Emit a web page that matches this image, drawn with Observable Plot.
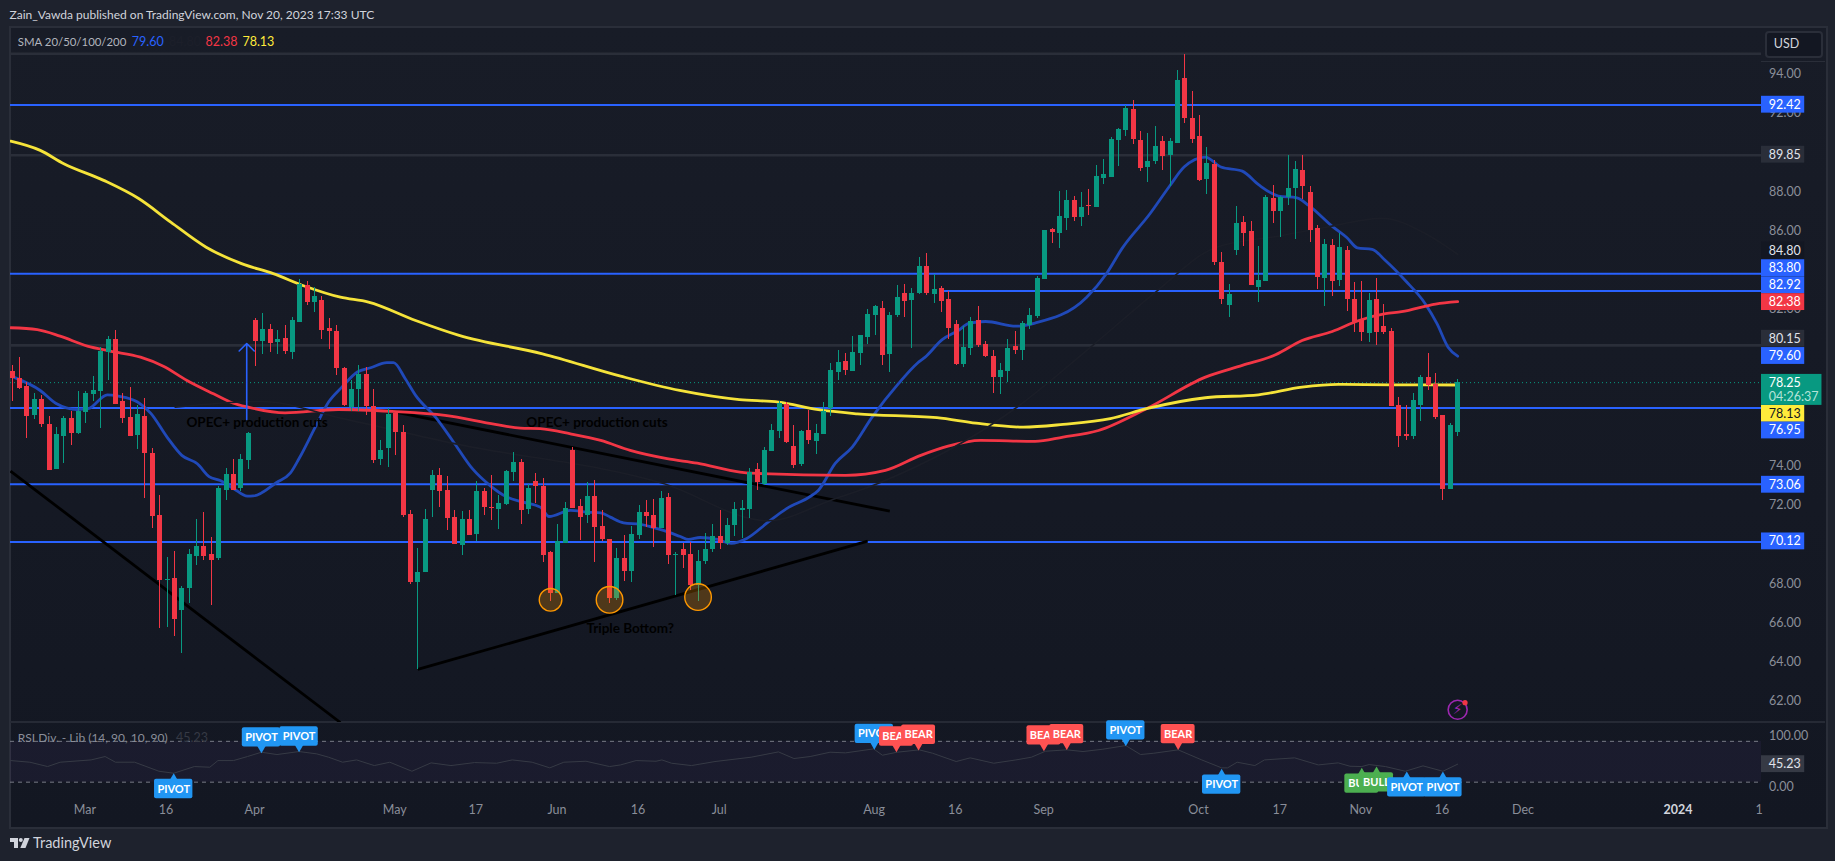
<!DOCTYPE html>
<html>
<head>
<meta charset="utf-8">
<script src="https://cdn.jsdelivr.net/npm/d3@7"></script>
<script src="https://cdn.jsdelivr.net/npm/@observablehq/plot@0.6"></script>
<style>
html,body{margin:0;padding:0;background:#1e222d;overflow:hidden}
#root{position:relative;width:1835px;height:861px;background:#1e222d;font-family:Lato,sans-serif;overflow:hidden}
#pane{position:absolute;left:9px;top:26px;width:1815px;height:799px;border:2px solid #2a2e39;box-sizing:content-box;background:linear-gradient(#181c27,#131722)}
.abs{position:absolute;white-space:pre}
#root svg{position:absolute;left:0;top:0}
</style>
</head>
<body>
<div id="root">
  <div id="pane"></div>
  <div id="sep" class="abs" style="left:10px;top:721px;width:1815px;height:2px;background:#262a35"></div>
  <div id="scaleline" class="abs" style="left:1761px;top:61px;width:64px;height:1px;background:#2a2e39"></div>
</div>
<script>
// ---- candles (USD per barrel, oldest first)
const opens = [
78.82,78.46,78.06,76.58,77.39,76.12,73.82,75.51,76.42,75.66,
76.73,77.65,77.80,79.79,80.45,77.29,76.47,75.56,76.53,74.64,
71.47,68.16,68.26,66.63,67.75,69.38,69.89,69.48,69.28,72.75,
73.57,72.85,74.28,81.42,80.35,80.97,80.30,80.51,79.79,81.32,
83.21,82.34,82.44,81.02,80.86,78.97,76.98,77.90,78.67,77.04,
74.33,74.89,76.68,75.71,71.53,68.06,68.57,72.75,73.52,72.75,
71.37,69.94,71.27,70.51,72.70,71.88,71.78,72.04,73.67,74.18,
71.78,73.21,72.95,69.59,67.50,70.05,74.79,71.93,71.47,72.44,
70.91,70.25,67.24,69.28,68.62,70.45,71.63,71.47,70.81,72.39,
69.43,69.74,69.48,67.90,69.13,69.74,70.40,70.05,70.96,71.75,
71.78,73.82,73.07,74.74,75.76,77.14,75.00,74.08,75.81,75.25,
75.61,76.93,78.77,79.33,78.82,79.74,80.56,81.68,82.04,79.69,
81.68,82.80,82.44,82.80,84.18,82.75,83.06,82.50,81.22,79.18,
80.00,81.42,80.20,79.59,78.52,78.82,80.10,79.89,81.17,81.63,
83.52,86.07,85.86,86.63,87.55,86.68,87.29,87.19,88.67,88.72,
90.61,91.12,92.19,90.61,89.23,89.54,90.56,89.84,90.45,93.77,
91.73,90.81,88.62,89.38,84.38,82.19,85.00,86.42,85.96,83.11,
83.41,87.65,86.98,87.70,88.16,89.08,87.95,86.12,83.57,85.25,
83.46,85.00,82.50,81.42,80.76,82.50,81.12,80.86,77.09,75.61,
75.51,77.09,78.52,78.16,76.58,72.80,75.71];
const closes = [
78.48,77.97,76.54,77.39,76.12,73.77,75.61,76.42,75.66,76.78,
77.70,77.85,79.84,80.45,77.14,76.42,75.51,76.63,74.64,71.42,
68.16,68.21,66.17,67.75,69.48,69.89,69.38,69.18,72.85,73.57,
72.75,74.33,75.66,80.35,80.97,80.25,80.45,79.84,81.42,83.26,
82.34,82.65,80.91,80.86,78.97,77.09,77.90,78.67,77.04,74.28,
74.79,76.63,75.71,71.47,68.06,68.57,71.27,73.52,72.70,71.32,
70.00,71.27,70.45,72.70,71.88,71.83,72.09,73.72,74.18,71.73,
72.85,72.95,69.43,67.50,70.15,71.83,71.83,71.37,72.44,70.86,
70.25,67.24,69.28,68.62,70.50,71.63,71.42,70.81,72.34,69.43,
69.48,69.43,67.90,69.13,69.74,70.40,70.05,70.96,71.78,71.83,
73.67,73.16,74.79,75.81,77.19,75.20,74.03,75.76,75.30,75.66,
76.78,78.87,79.28,78.87,79.79,80.66,81.73,82.14,79.64,81.68,
82.60,82.39,82.80,84.18,82.80,83.01,82.39,81.02,79.18,80.05,
81.37,80.15,79.59,78.52,78.87,80.00,79.89,81.27,81.68,83.57,
86.02,85.91,86.73,87.55,86.68,87.19,87.24,88.77,88.87,90.66,
91.17,92.24,90.66,89.18,89.54,90.30,89.79,90.56,93.67,91.73,
90.66,88.57,89.43,84.38,82.50,82.75,86.37,85.86,83.21,83.46,
87.70,86.98,87.70,88.16,89.13,88.26,86.02,83.62,85.30,83.41,
85.15,82.50,81.32,80.81,82.44,80.81,80.81,77.04,75.51,75.51,
77.34,78.52,78.11,76.47,72.80,76.07,78.26];
const highs = [
79.13,79.54,78.24,77.68,77.58,76.51,75.96,76.54,76.78,77.80,
77.80,78.57,80.06,80.61,80.91,77.70,77.99,77.09,77.44,74.89,
72.50,69.33,69.64,67.85,69.74,71.27,71.63,70.35,72.95,73.87,
74.33,74.59,75.71,81.53,81.78,81.22,80.91,81.17,81.58,83.52,
83.41,83.11,82.65,81.53,81.17,79.03,78.36,79.13,79.03,77.90,
75.30,76.93,76.78,76.07,71.73,69.79,71.78,73.77,73.87,73.47,
71.73,71.68,71.73,73.21,72.85,73.52,72.50,73.77,74.69,74.33,
73.06,73.62,73.36,69.64,71.02,72.14,74.94,72.29,73.16,73.26,
71.73,70.25,69.79,70.45,70.91,71.98,72.24,72.29,72.70,72.60,
69.59,70.05,70.10,69.69,70.56,71.02,71.73,71.32,72.14,72.24,
73.87,74.13,74.94,76.12,77.31,77.26,76.07,75.81,76.83,76.12,
77.24,79.23,79.89,79.74,80.61,80.66,81.98,82.19,82.39,81.83,
83.21,83.26,83.06,84.64,84.84,83.77,83.16,82.90,81.42,81.12,
81.58,82.14,80.35,79.89,79.23,80.45,80.86,81.37,82.04,83.67,
86.02,86.12,88.01,88.06,87.75,87.95,88.11,89.33,89.64,90.74,
91.22,92.39,92.65,91.07,90.96,91.32,90.81,90.71,94.18,95.00,
93.11,91.88,90.25,89.59,84.89,83.26,87.24,86.73,86.47,85.20,
87.80,88.31,87.75,89.84,89.54,89.84,88.26,86.27,85.56,85.56,
85.86,85.20,83.36,83.41,82.80,83.57,82.24,81.02,77.50,77.09,
77.70,78.62,79.74,78.72,76.58,76.17,78.41];
const lows = [
77.31,77.92,75.42,76.37,75.96,73.77,73.82,74.15,75.05,75.61,
76.17,77.29,75.93,78.36,77.14,76.17,75.51,74.84,72.34,70.81,
65.71,65.76,65.30,64.43,66.98,68.92,69.18,66.88,69.18,72.24,
72.75,72.70,73.82,79.08,79.69,79.79,79.69,79.69,79.43,81.32,
82.19,81.83,80.45,79.94,78.62,77.04,76.78,76.78,76.58,74.13,
74.03,73.92,74.54,71.37,67.95,63.62,68.57,71.37,71.88,70.71,
70.00,69.43,70.45,70.15,71.47,71.22,70.76,71.98,73.21,71.02,
71.53,72.09,69.08,67.09,67.50,70.05,71.83,70.20,71.07,69.08,
70.15,66.98,67.14,68.11,68.06,70.25,70.86,69.84,70.81,68.97,
67.39,68.77,67.65,67.09,68.97,69.59,69.74,69.94,70.40,70.30,
71.32,72.75,73.00,74.74,75.40,75.15,73.87,73.97,75.10,74.59,
75.61,76.53,78.36,78.62,78.82,79.13,80.20,80.66,79.13,78.77,
81.58,81.58,80.00,82.75,82.70,82.29,81.83,80.45,79.13,79.03,
79.64,80.05,79.54,77.70,77.65,78.24,79.69,79.38,80.96,81.53,
83.52,85.35,85.10,86.02,86.47,86.22,86.78,87.19,88.36,88.72,
89.28,90.81,90.40,89.03,88.46,89.38,89.08,88.26,90.45,91.47,
90.45,88.52,87.85,84.23,82.24,81.58,84.74,85.20,83.21,82.34,
83.41,86.37,85.66,87.29,85.56,87.60,85.40,83.00,82.14,82.65,
83.16,81.88,80.81,80.35,80.30,80.15,80.71,77.04,74.94,75.30,
75.35,76.27,77.85,76.37,72.24,72.80,75.51];

// ---- moving averages: [bar number, price]
const sma20 = [[1.2,78.53],[4.8,77.85],[6.9,77.20],[9.8,76.88],[11.3,76.92],[13.9,77.63],[15.4,77.56],[18,77.26],[19.8,76.68],[22,75.47],[24,74.54],[26.1,74.11],[27.7,73.46],[29.2,73.26],[31,72.85],[32.9,72.46],[33.7,72.47],[36.9,73.17],[38.7,73.63],[39.9,74.38],[42.1,75.98],[43.9,77.26],[45.7,78.02],[47.8,78.79],[49.6,79.01],[51.8,79.27],[52.7,79.27],[54.3,78.45],[55.7,77.60],[58.4,76.49],[60.7,75.30],[63.4,73.86],[65.8,73.00],[68.1,72.41],[70.3,72.15],[72.6,71.90],[73.8,71.42],[76.7,71.73],[79,71.64],[80.8,71.61],[82.1,71.39],[83.9,71.10],[86.2,71.02],[89.3,70.71],[91.6,70.40],[92.7,70.25],[94.3,70.35],[96.6,70.25],[98.5,70.05],[100.6,70.30],[103.5,71.13],[106,71.82],[109.2,72.44],[110.3,72.75],[112.6,74.13],[114.9,74.96],[117.6,76.49],[121.2,78.21],[123.7,79.23],[124.8,79.55],[127.1,80.44],[129.3,80.91],[130.7,81.27],[133,81.37],[137.1,81.13],[139.7,81.29],[146.7,82.61],[149.4,83.82],[151.5,85.10],[155.3,86.88],[158,88.31],[159.9,89.25],[162.8,89.76],[164.9,89.25],[167.8,89.04],[170,88.35],[172.7,87.77],[175.2,87.68],[176.8,87.29],[180,86.22],[182,85.64],[183.4,85.13],[185.4,85.05],[187.2,84.48],[189.9,83.46],[192.6,82.28],[194.2,81.26],[195.7,80.06],[197,79.60]];
const sma50 = [[23.1,77.00],[34.7,77.29],[46,76.4],[60.8,75.15],[89.3,73.10],[103.5,71.20],[112.3,72.29],[118.4,73.11],[137,76.93],[147.2,80.05],[156.3,82.95],[163.9,85.10],[173.2,85.76],[179,86.17],[186.8,86.63],[192.6,85.86],[197,84.80]];
const sma100 = [[0.8,81.05],[4.4,80.95],[7.5,80.62],[11.2,80.11],[14.3,79.86],[18.4,79.55],[21.5,79.09],[24.7,78.36],[28.3,77.68],[31,77.20],[33,77.00],[38,76.71],[45.2,76.88],[52.5,76.78],[59.7,76.58],[66.5,76.12],[69.9,75.93],[72.6,75.90],[76.7,75.64],[80.8,75.30],[84.8,74.79],[89.8,74.37],[93.9,74.14],[99.7,73.68],[101.2,73.63],[114,73.52],[119.4,73.77],[124.2,74.54],[127.9,75.01],[132.3,75.30],[139.7,75.25],[143.5,75.47],[148.3,75.81],[154.8,76.92],[162.8,78.53],[167.8,79.13],[172.3,79.67],[175.9,80.40],[180,80.86],[183.6,81.42],[187.2,81.77],[189.4,81.87],[194,82.26],[197,82.38]];
const sma200 = [[0.8,90.57],[4.8,90.10],[8,89.42],[13.4,88.57],[18.2,87.63],[22.5,86.44],[27.3,85.16],[32.1,84.32],[36.4,83.81],[40.7,83.17],[45.5,82.61],[49.3,82.36],[55.7,81.42],[61.6,80.66],[72.9,79.72],[83.5,78.58],[91.5,77.85],[99.6,77.38],[104.9,77.26],[110.3,76.87],[115.6,76.66],[126.4,76.46],[131.7,76.18],[138.1,75.98],[143.5,76.12],[149.9,76.41],[154.8,76.92],[162.8,77.48],[170,77.63],[175.9,78.02],[180.8,78.16],[188.1,78.14],[197,78.13]];

// ---- horizontal levels
const blueLevels = [92.42, 83.80, 76.95, 73.06, 70.12];
const blueLevelFrom = {level: 82.92, bar: 127.4};
const greyLevels = [95.03, 89.85, 80.15];
const lastPrice = 78.25;

// ---- drawn trend lines: [bar, price, bar, price]
const trendLines = [[0.77,73.74,45.5,60.91],[53,76.75,120,71.69],[56,63.62,117,70.16]];
const tripleBottom = [[74,67.17,11.3],[82,67.17,13.3],[94,67.31,13.3]];

// ---- price scale (ticks covered by level tags are left out)
const priceTicks = [62,64,66,68,72,74,82,86,88,92,94];
const scaleTags = ["92.42","89.85","84.80","83.80","82.92","82.38","80.15","79.60","78.13","76.95","73.06","70.12"];
const scaleTagAt = [92.43,89.88,84.99,84.09,83.22,82.36,80.49,79.61,76.66,75.81,73.04,70.15];
const scaleTagFill = ["#2962ff","#2a2e39","#131722","#2962ff","#2962ff","#f23645","#2a2e39","#2962ff","#ffeb3b","#2962ff","#2962ff","#2962ff"];
const scaleTagInk = ["#fff","#e0e3eb","#e0e3eb","#fff","#fff","#fff","#e0e3eb","#fff","#131722","#fff","#fff","#fff"];

// ---- time axis
const timeBars = [11,22,34,53,64,75,86,97,118,129,141,162,173,184,195,206,238];
const timeNames = ["Mar","16","Apr","May","17","Jun","16","Jul","Aug","16","Sep","Oct","17","Nov","16","Dec","1"];
const yearBar = 227, yearName = "2024";

// ---- RSI pane: [bar, value]
const rsi = [[0.8,52.3],[3.4,49.1],[5.8,40.6],[7.5,49.1],[11.7,53.6],[13.6,60.2],[15,49.1],[17.6,49.1],[20.9,31.4],[22.9,27.5],[25.7,40.6],[27.8,39.3],[28.9,52.3],[31,52.3],[32.9,60.2],[34.8,68.7],[36.9,64.1],[39.9,70],[42.3,65.4],[43.9,58.9],[45.8,49.1],[47.7,53.6],[50.1,42.5],[52.2,49.1],[55.2,31.4],[57.8,47.8],[60.5,42.5],[63.7,48.4],[66.7,47.1],[68.8,53.6],[71.5,49.1],[73.9,38],[75.8,49.1],[78.8,51],[82,40.6],[83.5,43.8],[85.6,52.3],[88.3,51],[89.1,53.6],[90.4,47.1],[93.1,42.5],[96.3,50.4],[101.2,58.9],[104.9,69.3],[107,56.3],[109.2,60.2],[111.9,68.7],[114,67.4],[117.8,75.2],[119,62.8],[121,68.7],[124,73.3],[125.8,66.7],[129,50.4],[130.9,57.6],[134.1,47.1],[137.1,53.6],[139.2,58.9],[141.1,70.6],[144,73.3],[146.2,70],[148.9,74.6],[152,81.7],[154,64.1],[155.8,66.7],[159.1,73.3],[162.3,53.6],[165,38],[165.8,38],[167.1,49.1],[169.5,42.5],[170.8,53.6],[174.9,57.6],[178.1,43.8],[180.8,47.8],[182.4,41.2],[184,40.6],[185,44.5],[187.2,40.6],[189.9,31.4],[192.3,41.9],[195,31.4],[197,45.23]];
const signalBars = [22.9,34.8,39.9,117.9,120.9,123.9,140.9,144,152,159.1,165,184,186,190.1,195];
const signalValues = [27.5,66.7,68.6,73.9,68.6,72,70.6,73.3,80.4,73.3,36.1,38,40.6,30.8,30.8];
const signalNames = ["PIVOT","PIVOT","PIVOT","PIVOT","BEAR","BEAR","BEAR","BEAR","PIVOT","BEAR","PIVOT","BULL","BULL","PIVOT","PIVOT"];
const signalAbove = [false,true,true,true,true,true,true,true,true,true,false,false,false,false,false];
const signalColors = {PIVOT:"#2196f3", BEAR:"#ff5252", BULL:"#4caf50"};

// ---- shared styles
const GREEN = "#089981", RED = "#f23645", LEVEL = "#2962ff", GREY = "#2a2e39";
const FONT = "Lato, sans-serif";
const xDomain = [0.77, 238.2];
const scaleLeft = 238.2, tagRight = 244.06, wideRight = 246.4, tagText = 239.2;

const bars = closes.map((c, i) => ({bar: i + 1, open: opens[i], close: c, high: highs[i], low: lows[i]}));
const ups = bars.filter(d => d.close >= d.open), downs = bars.filter(d => d.close < d.open);
const pts = a => a.map(([bar, v]) => ({bar, v}));
const smaLine = (a, stroke, w = 2.8) => Plot.line(pts(a), {x: "bar", y: "v", stroke, strokeWidth: w, curve: "monotone-x", clip: "frame"});
const candle = (data, c) => [
  Plot.ruleX(data, {x: "bar", y1: "low", y2: "high", stroke: c, strokeWidth: 1, shapeRendering: "crispEdges", clip: "frame"}),
  Plot.ruleX(data, {x: "bar", y1: "open", y2: "close", stroke: c, strokeWidth: 5, shapeRendering: "crispEdges", clip: "frame"})
];

const tagMarks = scaleTags.flatMap((t, i) => {
  const d = [{at: scaleTagAt[i]}];
  return [
    Plot.rect(d, {x1: scaleLeft, x2: tagRight, y1: e => e.at - 0.43, y2: e => e.at + 0.43, fill: scaleTagFill[i]}),
    Plot.text(d, {x: tagText, y: "at", text: () => t, fill: scaleTagInk[i], textAnchor: "start", fontSize: 12.5})
  ];
});

const main = Plot.plot({
  width: 1835, height: 861,
  marginLeft: 10, marginRight: 74, marginTop: 27, marginBottom: 139,
  style: {background: "transparent", fontFamily: FONT},
  x: {type: "linear", domain: xDomain, axis: null},
  y: {type: "linear", domain: [60.91, 96.37]},
  r: {type: "identity"},
  marks: [
    Plot.axisY({anchor: "right", ticks: priceTicks, tickSize: 0, tickPadding: 7.6, tickFormat: d => d.toFixed(2), label: null, color: "#8a8e99", fontSize: 12.5}),
    Plot.ruleY(greyLevels, {stroke: GREY, strokeWidth: 2.6}),
    Plot.ruleY(blueLevels, {stroke: LEVEL, strokeWidth: 2}),
    Plot.ruleY([blueLevelFrom.level], {x1: blueLevelFrom.bar, x2: xDomain[1], stroke: LEVEL, strokeWidth: 2}),
    Plot.ruleY([lastPrice], {stroke: GREEN, strokeWidth: 1, strokeDasharray: "1 3"}),
    Plot.link(trendLines, {x1: d => d[0], y1: d => d[1], x2: d => d[2], y2: d => d[3], stroke: "#000", strokeWidth: 2.8, clip: "frame"}),
    smaLine(sma20, "#2049b8"),
    smaLine(sma100, "#f23645"),
    smaLine(sma200, "#f5e33a"),
    smaLine(sma50, "#1b1e28", 1.6),
    ...candle(ups, GREEN),
    ...candle(downs, RED),
    Plot.dot(tripleBottom, {x: d => d[0], y: d => d[1], r: d => d[2], stroke: "#ff9800", strokeWidth: 1.4, fill: "#ff9800", fillOpacity: 0.25}),
    Plot.arrow([[32.8, 76.37, 32.8, 80.25]], {x1: d => d[0], y1: d => d[1], x2: d => d[2], y2: d => d[3], stroke: LEVEL, strokeWidth: 1.6, headAngle: 90, headLength: 10, bend: 0}),
    Plot.text(["OPEC+ production cuts"], {x: 34.2, y: 76.23, text: d => d, fill: "#000", fontSize: 13.5, fontWeight: 700}),
    Plot.text(["OPEC+ production cuts"], {x: 80.3, y: 76.2, text: d => d, fill: "#000", fontSize: 13.5, fontWeight: 700}),
    Plot.text(["Triple Bottom?"], {x: 84.8, y: 65.71, text: d => d, fill: "#000", fontSize: 13.5, fontWeight: 700}),
    Plot.dot([0], {x: 197, y: 61.56, r: 9.5, stroke: "#9c27b0", strokeWidth: 1.6, fill: "none"}),
    Plot.text(["\u26A1"], {x: 197, y: 61.56, text: d => d, fill: "#9c27b0", fontSize: 14, fontFamily: "DejaVu Sans"}),
    Plot.dot([0], {x: 198, y: 61.92, r: 2.6, fill: RED}),
    ...tagMarks,
    Plot.rect([0], {x1: scaleLeft, x2: wideRight, y1: 77.09, y2: 78.67, fill: GREEN}),
    Plot.text(["78.25"], {x: tagText, y: lastPrice, text: d => d, fill: "#fff", textAnchor: "start", fontSize: 12.5}),
    Plot.text(["04:26:37"], {x: tagText, y: 77.51, text: d => d, fill: "#b5e3d8", textAnchor: "start", fontSize: 12.5})
  ]
});

const signalMarks = signalNames.flatMap((name, i) => {
  const up = signalAbove[i], half = name === "PIVOT" ? 2.6 : 2.3, s = up ? 1 : -1;
  const d = [{bar: signalBars[i], v: signalValues[i]}];
  return [
    Plot.dot(d, {x: "bar", y: e => e.v + s * 12, r: 4, symbol: "triangle", rotate: up ? 180 : 0, fill: signalColors[name]}),
    Plot.rect(d, {x1: e => e.bar - half, x2: e => e.bar + half, y1: e => e.v + s * 12, y2: e => e.v + s * 49.8, fill: signalColors[name], rx: 2}),
    Plot.text(d, {x: "bar", y: e => e.v + s * 31, text: () => name, fill: "#fff", fontSize: 11, fontWeight: 700})
  ];
});

const lower = Plot.plot({
  width: 1835, height: 861,
  marginLeft: 10, marginRight: 74, marginTop: 722, marginBottom: 58,
  style: {background: "transparent", fontFamily: FONT},
  x: {type: "linear", domain: xDomain},
  y: {type: "linear", domain: [-31.8, 126.9]},
  marks: [
    Plot.axisX({anchor: "bottom", ticks: timeBars, tickFormat: d => timeNames[timeBars.indexOf(d)], tickSize: 0, tickPadding: 2, label: null, color: "#8a8e99", fontSize: 12.5, dx: -1}),
    Plot.axisX({anchor: "bottom", ticks: [yearBar], tickFormat: () => yearName, tickSize: 0, tickPadding: 2, label: null, color: "#d1d4dc", fontSize: 12.5, fontWeight: 700, dx: -1}),
    Plot.axisY({anchor: "right", ticks: [0, 100], tickSize: 0, tickPadding: 7.6, tickFormat: d => d.toFixed(2), label: null, color: "#8a8e99", fontSize: 12.5}),
    Plot.rect([0], {x1: xDomain[0], x2: xDomain[1], y1: 10, y2: 90, fill: "#7e57c2", fillOpacity: 0.07}),
    Plot.ruleY([10, 90], {stroke: "#787b86", strokeWidth: 1, strokeDasharray: "4 4"}),
    Plot.line(pts(rsi), {x: "bar", y: "v", stroke: "#363a45", strokeWidth: 1}),
    ...signalMarks,
    Plot.rect([0], {x1: scaleLeft, x2: tagRight, y1: 45.23 - 16.5, y2: 45.23 + 16.5, fill: "#363a45"}),
    Plot.text(["45.23"], {x: tagText, y: 45.23, text: d => d, fill: "#e0e3eb", textAnchor: "start", fontSize: 12.5})
  ]
});

const root = document.getElementById("root");
root.append(main, lower);

// ---- page text
const put = (text, left, cy, color, size = 12.5, extra = "") => {
  const el = document.createElement("div");
  el.className = "abs";
  el.textContent = text;
  el.style.cssText = `left:${left}px;top:${cy - 10}px;line-height:20px;color:${color};font-size:${size}px;${extra}`;
  root.append(el);
};
put("Zain_Vawda published on TradingView.com, Nov 20, 2023 17:33 UTC", 9.5, 14.7, "#d1d4dc", 12);
put("SMA 20/50/100/200", 17.8, 41.7, "#b2b5be", 11.4);
put("79.60", 131.7, 41.7, "#2962ff");
put("84.80", 169, 41.7, "#1c1f2a");
put("82.38", 205.6, 41.7, "#f23645");
put("78.13", 242.4, 41.7, "#ffeb3b");
put("RSI Div. - Lib (14, 90, 10, 90)", 17.8, 737.5, "#8a8e99", 12);
put("45.23", 176, 737.5, "#363a45");
const usd = document.createElement("div");
usd.className = "abs";
usd.style.cssText = "left:1764.6px;top:30.7px;width:54px;height:23px;border:2px solid #2a2e39;border-radius:4px;background:#131722;";
root.append(usd);
put("USD", 1773.7, 44.3, "#d1d4dc", 12.5);
put("TradingView", 33, 843, "#d1d4dc", 14.5);
const logo = document.createElementNS("http://www.w3.org/2000/svg", "svg");
logo.setAttribute("width", 20); logo.setAttribute("height", 10);
logo.setAttribute("viewBox", "0 0 20 10");
logo.style.cssText = "left:10px;top:838px;";
logo.innerHTML = '<path d="M0 0h8v10h-4v-6h-4z" fill="#d1d4dc"/><circle cx="10.8" cy="2" r="2" fill="#d1d4dc"/><path d="M14.5 0h5l-4 10h-5.2z" fill="#d1d4dc"/>';
root.append(logo);
</script>
</body>
</html>
